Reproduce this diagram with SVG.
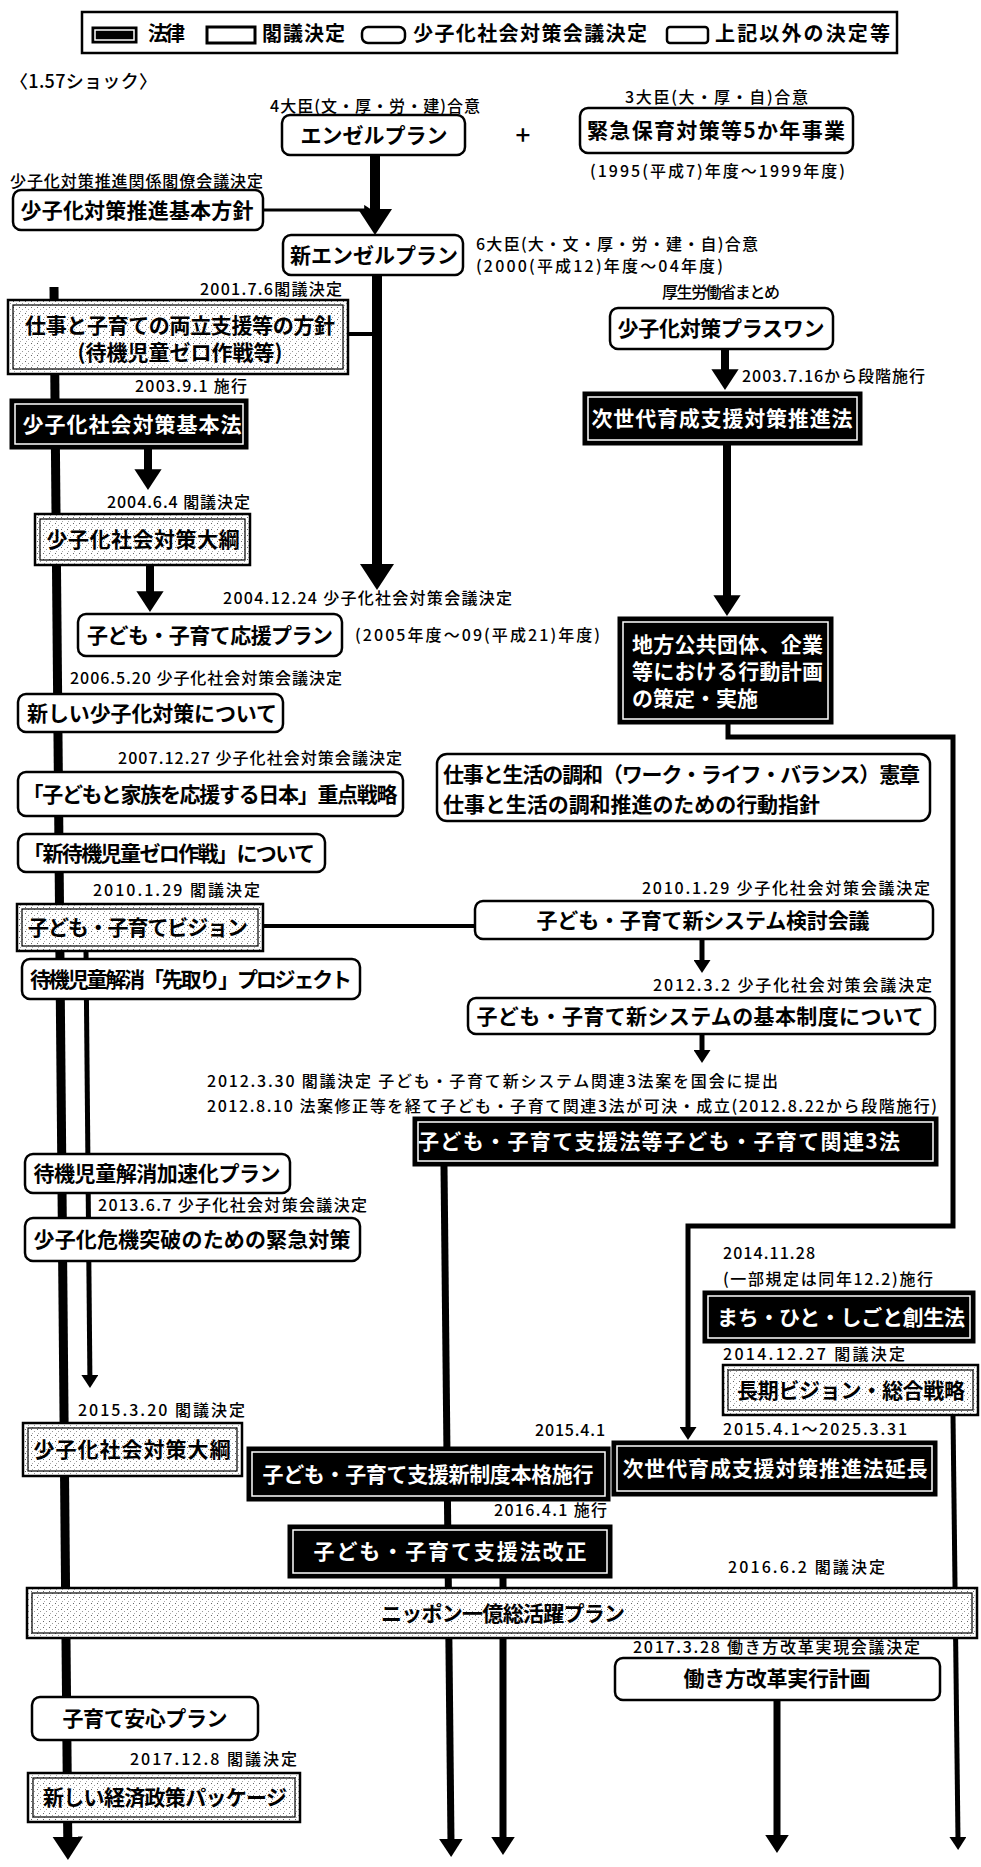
<svg xmlns="http://www.w3.org/2000/svg" width="981" height="1867" viewBox="0 0 981 1867">
<defs>
<style>
.rb{fill:#fff;stroke:#000;stroke-width:2.5}
.cab{fill:url(#stip);stroke:#000;stroke-width:2.5}
.cabi{fill:none;stroke:#000;stroke-width:1.2}
.law{fill:#000;stroke:#000;stroke-width:1}
.lawi{fill:none;stroke:#fff;stroke-width:1.5}
.t{font-family:"Noto Sans CJK JP","Noto Sans CJK SC",sans-serif;font-weight:700;font-size:21px;fill:#000}
.w{fill:#fff}
.lb{font-family:"Noto Sans CJK JP","Noto Sans CJK SC",sans-serif;font-weight:500;font-size:16px;fill:#000}
.lg{font-family:"Noto Sans CJK JP","Noto Sans CJK SC",sans-serif;font-weight:700;font-size:20px;fill:#000}
.ln{stroke:#000;fill:none;stroke-linecap:butt}
.ar{marker-end:url(#ah)}
</style>
<pattern id="stip" width="6" height="6" patternUnits="userSpaceOnUse">
<rect width="6" height="6" fill="#fff"/>
<rect x="1" y="1" width="1" height="1" fill="#666"/>
<rect x="4" y="3" width="1" height="1" fill="#999"/>
<rect x="2" y="5" width="1" height="1" fill="#aaa"/>
</pattern>
<marker id="ah" viewBox="0 0 26 34" markerWidth="2.6" markerHeight="3.4" refX="6" refY="17" orient="auto" markerUnits="strokeWidth">
<path d="M0,0 L26,17 L0,34 Z" fill="#000"/>
</marker>
</defs>
<rect width="981" height="1867" fill="#fff"/>

<g id="legend">
<rect x="82" y="12" width="815" height="41" fill="#fff" stroke="#000" stroke-width="2.5"/>
<rect x="92" y="27" width="45" height="16" class="law"/>
<rect x="95" y="30" width="39" height="10" class="lawi"/>
<text x="148" y="41" class="lg" textLength="37">法律</text>
<rect x="207" y="27" width="48" height="16" fill="#fff" stroke="#000" stroke-width="3"/>
<text x="262" y="41" class="lg" textLength="83">閣議決定</text>
<rect x="362" y="27" width="43" height="16" rx="6" fill="#fff" stroke="#000" stroke-width="2.5"/>
<text x="413" y="41" class="lg" textLength="234">少子化社会対策会議決定</text>
<rect x="667" y="27" width="41" height="16" rx="3" fill="#fff" stroke="#000" stroke-width="2.5"/>
<text x="715" y="41" class="lg" textLength="175">上記以外の決定等</text>
</g>

<text x="10" y="88" class="lb" style="font-size:18px" textLength="147">〈1.57ショック〉</text>

<g id="connectors">
<line class="ln ar" x1="375" y1="155" x2="375" y2="215" stroke-width="10"/>
<line class="ln ar" x1="377" y1="275" x2="377" y2="570" stroke-width="10"/>
<line class="ln ar" x1="263" y1="210" x2="366" y2="210" stroke-width="3"/>
<line class="ln" x1="348" y1="334" x2="377" y2="334" stroke-width="4"/>
<line class="ln ar" x1="148" y1="449" x2="148" y2="474" stroke-width="8"/>
<line class="ln ar" x1="150" y1="565" x2="150" y2="596" stroke-width="8"/>
<line class="ln ar" x1="725" y1="349" x2="725" y2="374" stroke-width="8"/>
<line class="ln ar" x1="727" y1="445" x2="727" y2="600" stroke-width="8"/>
<line class="ln ar" x1="54" y1="287" x2="67.8" y2="1842" stroke-width="9"/>
<line class="ln ar" x1="86" y1="951" x2="89.9" y2="1378" stroke-width="5"/>
<line class="ln" x1="263" y1="926" x2="475" y2="926" stroke-width="4"/>
<line class="ln ar" x1="702" y1="939" x2="702" y2="963" stroke-width="5"/>
<line class="ln ar" x1="702" y1="1034" x2="702" y2="1053" stroke-width="5"/>
<polyline class="ln ar" points="728,724 728,737 953,737 953,1226 688,1226 688,1430" stroke-width="5"/>
<line class="ln ar" x1="444" y1="1166" x2="451" y2="1843" stroke-width="7"/>
<line class="ln ar" x1="503" y1="1578" x2="503" y2="1841" stroke-width="7"/>
<line class="ln ar" x1="953" y1="1415" x2="958" y2="1840" stroke-width="5"/>
<line class="ln ar" x1="777" y1="1700" x2="777" y2="1839" stroke-width="7"/>
</g>

<g id="angel">
<text x="270" y="112" class="lb" textLength="210">4大臣(文・厚・労・建)合意</text>
<rect x="282" y="115" width="183" height="40" rx="8" class="rb"/>
<text x="374" y="143" class="t" text-anchor="middle">エンゼルプラン</text>
</g>
<text x="523" y="145" class="lb" style="font-size:26px" text-anchor="middle">+</text>

<g id="kinkyu">
<text x="625" y="103" class="lb" textLength="183">3大臣(大・厚・自)合意</text>
<rect x="580" y="108" width="273" height="45" rx="8" class="rb"/>
<text x="716" y="138" class="t" text-anchor="middle" textLength="258">緊急保育対策等5か年事業</text>
<text x="590" y="177" class="lb" textLength="255">(1995(平成7)年度～1999年度)</text>
</g>

<g id="kihonhoshin">
<text x="10" y="187" class="lb" textLength="253">少子化対策推進関係閣僚会議決定</text>
<rect x="13" y="190" width="250" height="40" rx="8" class="rb"/>
<text x="137" y="218" class="t" text-anchor="middle" textLength="233">少子化対策推進基本方針</text>
</g>

<g id="shin-angel">
<rect x="283" y="235" width="180" height="40" rx="8" class="rb"/>
<text x="374" y="263" class="t" text-anchor="middle">新エンゼルプラン</text>
<text x="476" y="250" class="lb" textLength="282">6大臣(大・文・厚・労・建・自)合意</text>
<text x="476" y="272" class="lb" textLength="247">(2000(平成12)年度～04年度)</text>
</g>

<g id="ryoritsu">
<text x="342" y="295" class="lb" text-anchor="end" textLength="142">2001.7.6閣議決定</text>
<rect x="8" y="300" width="340" height="74" class="cab"/>
<rect x="13" y="305" width="330" height="64" class="cabi"/>
<text x="180" y="333" class="t" text-anchor="middle" textLength="310">仕事と子育ての両立支援等の方針</text>
<text x="180" y="360" class="t" text-anchor="middle">(待機児童ゼロ作戦等)</text>
</g>

<g id="kihonho">
<text x="247" y="392" class="lb" text-anchor="end" textLength="112">2003.9.1 施行</text>
<rect x="10" y="399" width="238" height="50" class="law"/>
<rect x="15" y="404" width="228" height="40" class="lawi"/>
<text x="132" y="432" class="t w" text-anchor="middle" textLength="219">少子化社会対策基本法</text>
</g>

<g id="taiko2004">
<text x="250" y="508" class="lb" text-anchor="end" textLength="143">2004.6.4 閣議決定</text>
<rect x="35" y="514" width="215" height="51" class="cab"/>
<rect x="40" y="519" width="205" height="41" class="cabi"/>
<text x="143" y="547" class="t" text-anchor="middle" textLength="193">少子化社会対策大綱</text>
</g>

<g id="oen">
<text x="223" y="604" class="lb" textLength="289">2004.12.24 少子化社会対策会議決定</text>
<rect x="78" y="614" width="264" height="42" rx="8" class="rb"/>
<text x="210" y="643" class="t" text-anchor="middle" textLength="246">子ども・子育て応援プラン</text>
<text x="355" y="641" class="lb" textLength="245">(2005年度～09(平成21)年度)</text>
</g>

<g id="atarashii">
<text x="70" y="684" class="lb" textLength="272">2006.5.20 少子化社会対策会議決定</text>
<rect x="18" y="694" width="265" height="38" rx="8" class="rb"/>
<text x="152" y="721" class="t" text-anchor="middle" textLength="250">新しい少子化対策について</text>
</g>

<g id="juten">
<text x="118" y="764" class="lb" textLength="284">2007.12.27 少子化社会対策会議決定</text>
<rect x="18" y="772" width="385" height="44" rx="8" class="rb"/>
<text x="210" y="802" class="t" text-anchor="middle" textLength="375">「子どもと家族を応援する日本」重点戦略</text>
</g>

<g id="shintaiki">
<rect x="18" y="834" width="307" height="38" rx="8" class="rb"/>
<text x="169" y="861" class="t" text-anchor="middle" textLength="292">「新待機児童ゼロ作戦」について</text>
</g>

<g id="vision">
<text x="93" y="896" class="lb" textLength="167">2010.1.29 閣議決定</text>
<rect x="17" y="904" width="246" height="47" class="cab"/>
<rect x="22" y="909" width="236" height="37" class="cabi"/>
<text x="138" y="935" class="t" text-anchor="middle" textLength="220">子ども・子育てビジョン</text>
</g>

<g id="sakidori">
<rect x="22" y="959" width="338" height="40" rx="8" class="rb"/>
<text x="191" y="987" class="t" text-anchor="middle" textLength="322">待機児童解消「先取り」プロジェクト</text>
</g>

<g id="kasokuka">
<rect x="25" y="1154" width="265" height="39" rx="8" class="rb"/>
<text x="157" y="1181" class="t" text-anchor="middle" textLength="247">待機児童解消加速化プラン</text>
</g>

<g id="kinkyutaisaku">
<text x="98" y="1211" class="lb" textLength="269">2013.6.7 少子化社会対策会議決定</text>
<rect x="25" y="1218" width="335" height="43" rx="8" class="rb"/>
<text x="192" y="1247" class="t" text-anchor="middle" textLength="317">少子化危機突破のための緊急対策</text>
</g>

<g id="taiko2015">
<text x="78" y="1416" class="lb" textLength="167">2015.3.20 閣議決定</text>
<rect x="23" y="1423" width="219" height="53" class="cab"/>
<rect x="28" y="1428" width="209" height="43" class="cabi"/>
<text x="132" y="1457" class="t" text-anchor="middle" textLength="197">少子化社会対策大綱</text>
</g>

<g id="shinseido">
<text x="535" y="1436" class="lb" textLength="70">2015.4.1</text>
<rect x="247" y="1447" width="363" height="54" class="law"/>
<rect x="252" y="1452" width="353" height="44" class="lawi"/>
<text x="428" y="1482" class="t w" text-anchor="middle" textLength="331">子ども・子育て支援新制度本格施行</text>
</g>

<g id="jisedai-encho">
<text x="723" y="1435" class="lb" textLength="184">2015.4.1～2025.3.31</text>
<rect x="612" y="1441" width="325" height="55" class="law"/>
<rect x="617" y="1446" width="315" height="45" class="lawi"/>
<text x="775" y="1476" class="t w" text-anchor="middle" textLength="305">次世代育成支援対策推進法延長</text>
</g>

<g id="shienho-kaisei">
<text x="494" y="1516" class="lb" textLength="113">2016.4.1 施行</text>
<rect x="288" y="1525" width="324" height="53" class="law"/>
<rect x="293" y="1530" width="314" height="43" class="lawi"/>
<text x="450" y="1559" class="t w" text-anchor="middle" textLength="273">子ども・子育て支援法改正</text>
</g>

<g id="ichioku">
<text x="728" y="1573" class="lb" textLength="157">2016.6.2 閣議決定</text>
<rect x="27" y="1588" width="950" height="50" class="cab"/>
<rect x="32" y="1593" width="940" height="40" class="cabi"/>
<text x="503" y="1621" class="t" text-anchor="middle" textLength="244">ニッポン一億総活躍プラン</text>
</g>

<g id="hatarakikata">
<text x="633" y="1653" class="lb" textLength="287">2017.3.28 働き方改革実現会議決定</text>
<rect x="615" y="1658" width="325" height="42" rx="8" class="rb"/>
<text x="777" y="1686" class="t" text-anchor="middle" textLength="187">働き方改革実行計画</text>
</g>

<g id="anshin">
<rect x="32" y="1697" width="226" height="43" rx="8" class="rb"/>
<text x="145" y="1726" class="t" text-anchor="middle" textLength="165">子育て安心プラン</text>
</g>

<g id="keizai">
<text x="130" y="1765" class="lb" textLength="167">2017.12.8 閣議決定</text>
<rect x="28" y="1773" width="272" height="49" class="cab"/>
<rect x="33" y="1778" width="262" height="39" class="cabi"/>
<text x="165" y="1805" class="t" text-anchor="middle" textLength="244">新しい経済政策パッケージ</text>
</g>

<g id="plusone">
<text x="662" y="298" class="lb" textLength="118">厚生労働省まとめ</text>
<rect x="610" y="308" width="223" height="41" rx="8" class="rb"/>
<text x="721" y="336" class="t" text-anchor="middle" textLength="207">少子化対策プラスワン</text>
</g>

<g id="jisedai">
<text x="742" y="382" class="lb" textLength="183">2003.7.16から段階施行</text>
<rect x="583" y="392" width="279" height="53" class="law"/>
<rect x="588" y="397" width="269" height="43" class="lawi"/>
<text x="722" y="426" class="t w" text-anchor="middle" textLength="261">次世代育成支援対策推進法</text>
</g>

<g id="chiho">
<rect x="618" y="617" width="215" height="107" class="law"/>
<rect x="623" y="622" width="205" height="97" class="lawi"/>
<text x="632" y="652" class="t w" textLength="191">地方公共団体、企業</text>
<text x="632" y="679" class="t w" textLength="191">等における行動計画</text>
<text x="632" y="706" class="t w">の策定・実施</text>
</g>

<g id="wlb">
<rect x="437" y="754" width="493" height="67" rx="10" class="rb"/>
<text x="443" y="782" class="t" textLength="477">仕事と生活の調和（ワーク・ライフ・バランス）憲章</text>
<text x="443" y="812" class="t" textLength="377">仕事と生活の調和推進のための行動指針</text>
</g>

<g id="kento">
<text x="642" y="894" class="lb" textLength="288">2010.1.29 少子化社会対策会議決定</text>
<rect x="475" y="901" width="458" height="38" rx="8" class="rb"/>
<text x="703" y="928" class="t" text-anchor="middle" textLength="333">子ども・子育て新システム検討会議</text>
</g>

<g id="kihonseido">
<text x="653" y="991" class="lb" textLength="279">2012.3.2 少子化社会対策会議決定</text>
<rect x="468" y="998" width="467" height="36" rx="8" class="rb"/>
<text x="700" y="1024" class="t" text-anchor="middle" textLength="447">子ども・子育て新システムの基本制度について</text>
</g>

<g id="kanren3ho">
<text x="207" y="1087" class="lb" textLength="571">2012.3.30 閣議決定 子ども・子育て新システム関連3法案を国会に提出</text>
<text x="207" y="1112" class="lb" textLength="730">2012.8.10 法案修正等を経て子ども・子育て関連3法が可決・成立(2012.8.22から段階施行)</text>
<rect x="413" y="1117" width="525" height="49" class="law"/>
<rect x="418" y="1122" width="515" height="39" class="lawi"/>
<text x="659" y="1149" class="t w" text-anchor="middle" textLength="482">子ども・子育て支援法等子ども・子育て関連3法</text>
</g>

<g id="sosei">
<text x="723" y="1259" class="lb" textLength="92">2014.11.28</text>
<text x="723" y="1285" class="lb" textLength="210">(一部規定は同年12.2)施行</text>
<rect x="703" y="1291" width="272" height="52" class="law"/>
<rect x="708" y="1296" width="262" height="42" class="lawi"/>
<text x="841" y="1325" class="t w" text-anchor="middle" textLength="248">まち・ひと・しごと創生法</text>
</g>

<g id="choki">
<text x="723" y="1360" class="lb" textLength="182">2014.12.27 閣議決定</text>
<rect x="723" y="1365" width="255" height="50" class="cab"/>
<rect x="728" y="1370" width="245" height="40" class="cabi"/>
<text x="851" y="1398" class="t" text-anchor="middle" textLength="228">長期ビジョン・総合戦略</text>
</g>
</svg>
